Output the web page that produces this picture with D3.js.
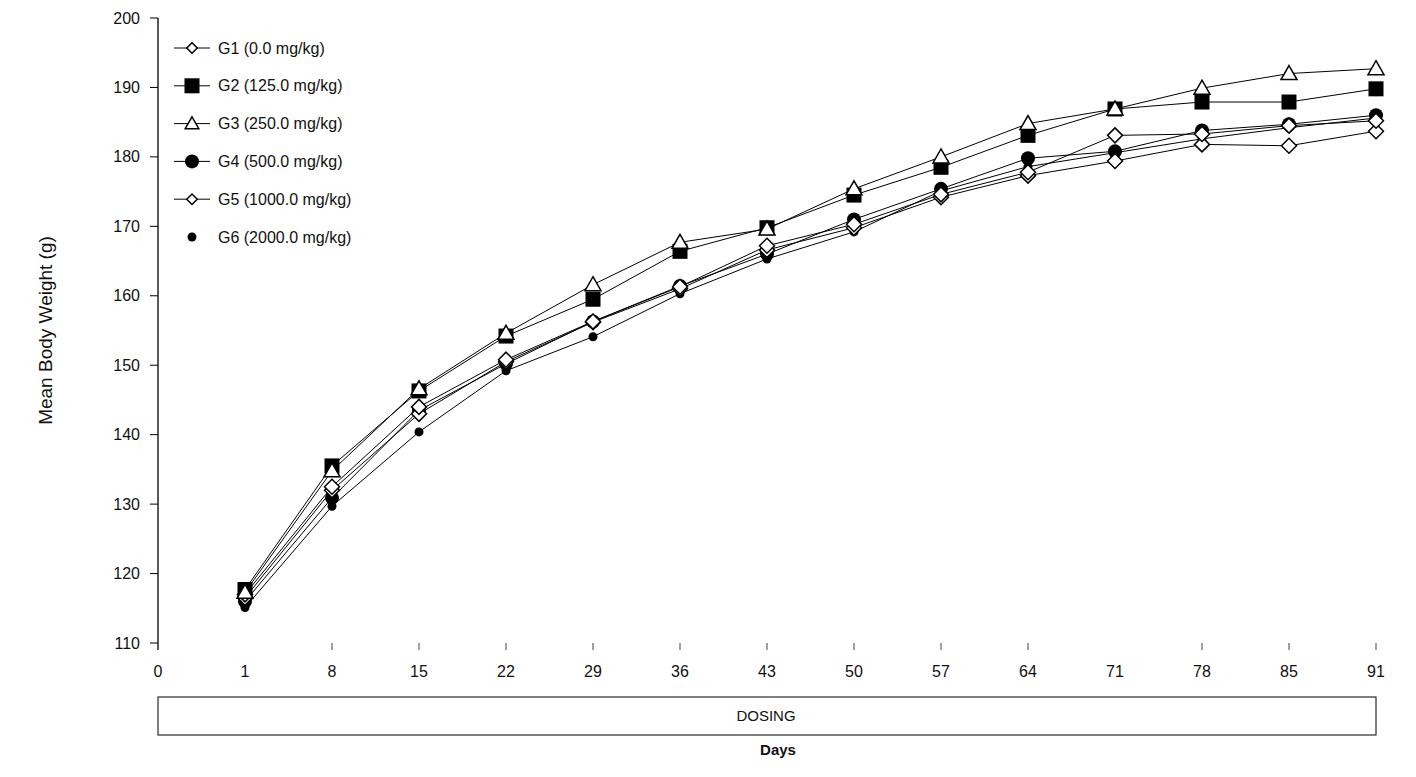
<!DOCTYPE html>
<html>
<head>
<meta charset="utf-8">
<script src="https://cdn.jsdelivr.net/npm/d3@7"></script>
<style>
  body { margin: 0; background: #fff; }
  text { font-family: "Liberation Sans", "DejaVu Sans", sans-serif; fill: #111; }
</style>
</head>
<body>
<div id="chart"></div>
<script>
// Day categories on the x axis (equally spaced)
const days = ["0", "1", "8", "15", "22", "29", "36", "43", "50", "57", "64", "71", "78", "85", "91"];
const dataDays = ["1", "8", "15", "22", "29", "36", "43", "50", "57", "64", "71", "78", "85", "91"];
const yTicks = [110, 120, 130, 140, 150, 160, 170, 180, 190, 200];

const g1 = [117.0, 132.5, 144.0, 150.8, 156.3, 161.3, 167.2, 170.3, 174.6, 177.8, 183.1, 183.3, 184.5, 185.2];
const g2 = [117.7, 135.5, 146.3, 154.2, 159.5, 166.4, 169.8, 174.5, 178.5, 183.1, 186.9, 187.9, 187.9, 189.8];
const g3 = [117.3, 134.8, 146.6, 154.6, 161.6, 167.7, 169.6, 175.4, 180.0, 184.8, 186.9, 189.9, 192.0, 192.7];
const g4 = [116.0, 130.9, 143.5, 150.2, 156.3, 161.4, 166.0, 171.0, 175.4, 179.8, 180.8, 183.8, 184.7, 186.0];
const g5 = [116.5, 132.0, 143.0, 150.5, 156.2, 161.0, 166.6, 169.8, 174.2, 177.3, 179.4, 181.8, 181.6, 183.7];
const g6 = [115.1, 129.7, 140.4, 149.2, 154.1, 160.3, 165.3, 169.2, 175.1, 178.6, 180.6, 182.6, 184.2, 185.6];

const seriesNames = ["G1 (0.0 mg/kg)", "G2 (125.0 mg/kg)", "G3 (250.0 mg/kg)", "G4 (500.0 mg/kg)", "G5 (1000.0 mg/kg)", "G6 (2000.0 mg/kg)"];
const seriesValues = [g1, g2, g3, g4, g5, g6];
const markers = ["diamond", "square", "triangle", "circle", "diamond", "dot"];

const width = 1416, height = 777;

const svg = d3.select("#chart").append("svg")
    .attr("width", width)
    .attr("height", height);

// x: point scale over day labels
const x = d3.scalePoint()
    .domain(days)
    .range([158, 1376]);

const y = d3.scaleLinear()
    .domain([110, 200])
    .range([643, 18]);

// y axis line and ticks
svg.append("line")
    .attr("x1", 158).attr("x2", 158)
    .attr("y1", y(200)).attr("y2", 650)
    .attr("stroke", "#000").attr("stroke-width", 1.3);

const yAxis = svg.append("g");
yTicks.forEach(t => {
    yAxis.append("line")
        .attr("x1", 150).attr("x2", 158)
        .attr("y1", y(t)).attr("y2", y(t))
        .attr("stroke", "#000");
    yAxis.append("text")
        .attr("x", 140)
        .attr("y", y(t))
        .attr("dy", "0.35em")
        .attr("text-anchor", "end")
        .attr("font-size", "16px")
        .text(t);
});

// x ticks and labels (no axis line in the original)
days.forEach(d => {
    if (d !== "0" && d !== "1" && d !== "71") {
        svg.append("line")
            .attr("x1", x(d)).attr("x2", x(d))
            .attr("y1", 643).attr("y2", 650)
            .attr("stroke", "#444");
    }
    svg.append("text")
        .attr("x", x(d))
        .attr("y", 677)
        .attr("text-anchor", "middle")
        .attr("font-size", "16px")
        .attr("font-family", "Liberation Sans Narrow, Liberation Sans, sans-serif")
        .text(d);
});

// Y axis title
svg.append("text")
    .attr("transform", `translate(52, ${y(155)}) rotate(-90)`)
    .attr("text-anchor", "middle")
    .attr("font-size", "19px")
    .text("Mean Body Weight (g)");

// Dosing box
svg.append("rect")
    .attr("x", x("0")).attr("y", 697)
    .attr("width", x("91") - x("0")).attr("height", 38)
    .attr("fill", "none").attr("stroke", "#000").attr("stroke-width", 1);
svg.append("text")
    .attr("x", (x("0") + x("91")) / 2 - 1)
    .attr("y", 721)
    .attr("text-anchor", "middle")
    .attr("font-size", "15px")
    .attr("font-family", "Liberation Sans Narrow, Liberation Sans, sans-serif")
    .text("DOSING");
svg.append("text")
    .attr("x", 778)
    .attr("y", 755)
    .attr("text-anchor", "middle")
    .attr("font-size", "15px")
    .attr("font-weight", "bold")
    .attr("font-family", "Liberation Sans Narrow, Liberation Sans, sans-serif")
    .text("Days");

// marker drawing; k scales the marker (legend uses smaller ones)
function drawMarker(g, type, cx, cy, k = 1) {
    if (type === "square") {
        const s = 7.5 * k;
        g.append("rect").attr("x", cx - s).attr("y", cy - s)
            .attr("width", 2 * s).attr("height", 2 * s)
            .attr("fill", "#000");
    } else if (type === "triangle") {
        const s = 8 * k;
        g.append("path")
            .attr("d", `M${cx},${cy - s} L${cx + s},${cy + s * 0.75} L${cx - s},${cy + s * 0.75} Z`)
            .attr("fill", "#fff").attr("stroke", "#000").attr("stroke-width", 1.5);
    } else if (type === "circle") {
        g.append("circle").attr("cx", cx).attr("cy", cy).attr("r", 7 * k)
            .attr("fill", "#000");
    } else if (type === "diamond") {
        const s = 7.5 * k;
        g.append("path")
            .attr("d", `M${cx},${cy - s} L${cx + s},${cy} L${cx},${cy + s} L${cx - s},${cy} Z`)
            .attr("fill", "#fff").attr("stroke", "#000").attr("stroke-width", 1.5);
    } else if (type === "dot") {
        g.append("circle").attr("cx", cx).attr("cy", cy).attr("r", 4.5 * k)
            .attr("fill", "#000");
    }
}

const line = d3.line()
    .x((d, i) => x(dataDays[i]))
    .y(d => y(d));

// lines first
seriesValues.forEach(vals => {
    svg.append("path")
        .datum(vals)
        .attr("d", line)
        .attr("fill", "none")
        .attr("stroke", "#000")
        .attr("stroke-width", 1);
});

// markers, drawn from G6 up so G2/G3 stay on top
const order = [5, 3, 4, 0, 1, 2];
order.forEach(s => {
    const g = svg.append("g");
    seriesValues[s].forEach((v, i) => drawMarker(g, markers[s], x(dataDays[i]), y(v)));
});

// legend
const legendScale = [0.7, 1, 0.85, 1, 0.7, 1];
const legend = svg.append("g");
seriesNames.forEach((name, i) => {
    const ly = 48 + i * 37.8;
    if (markers[i] !== "dot") {
        legend.append("line")
            .attr("x1", 174).attr("x2", 210)
            .attr("y1", ly).attr("y2", ly)
            .attr("stroke", "#000").attr("stroke-width", 1);
    }
    drawMarker(legend, markers[i], 192, ly, legendScale[i]);
    legend.append("text")
        .attr("x", 218)
        .attr("y", ly)
        .attr("dy", "0.35em")
        .attr("font-size", "16px")
        .text(name);
});
</script>
</body>
</html>
